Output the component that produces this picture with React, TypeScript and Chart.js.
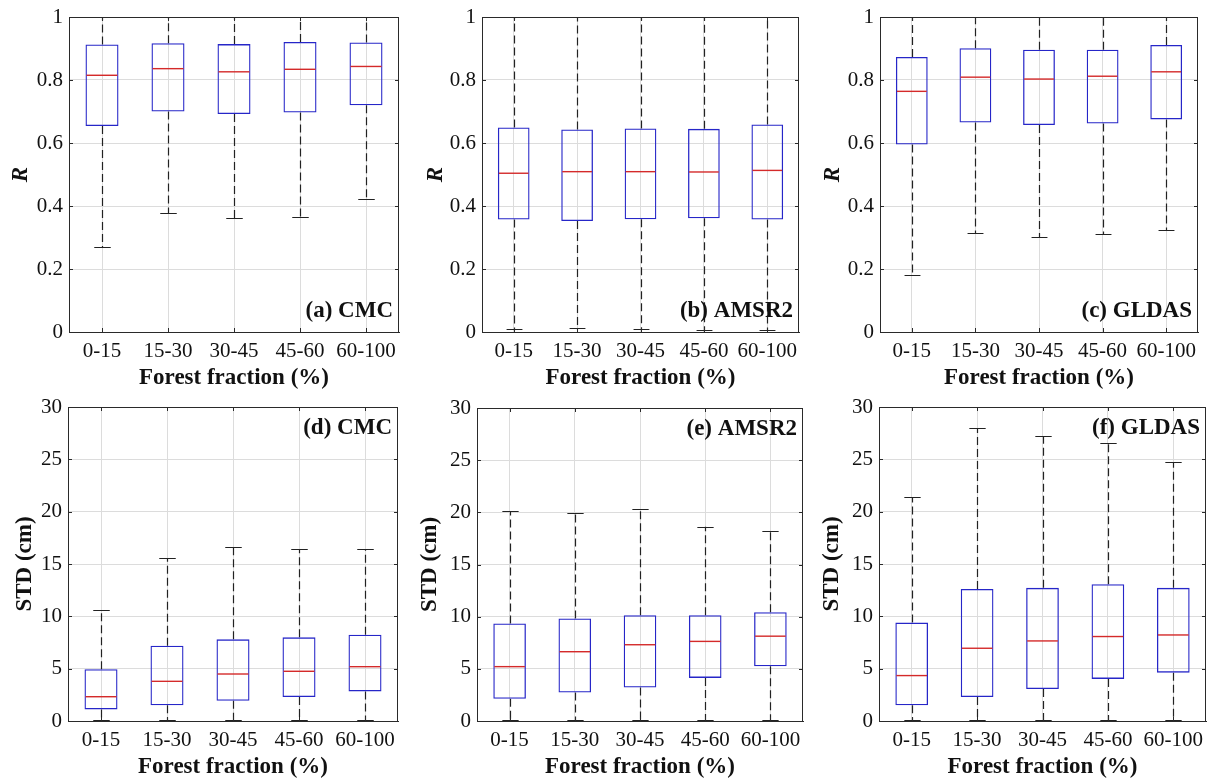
import React, { useEffect, useRef } from 'react';
import { Chart, registerables } from 'chart.js';

Chart.register(...registerables);

// ---------- data ----------
const categories = ['0-15', '15-30', '30-45', '45-60', '60-100'];

// (a) CMC, R
const rCmcLow = [0.267, 0.375, 0.36, 0.363, 0.42];
const rCmcQ1 = [0.654, 0.7, 0.692, 0.697, 0.72];
const rCmcMed = [0.815, 0.836, 0.826, 0.834, 0.843];
const rCmcQ3 = [0.913, 0.917, 0.914, 0.921, 0.919];
const rCmcHigh = [1, 1, 1, 1, 1];

// (b) AMSR2, R
const rAmsrLow = [0.005, 0.008, 0.006, 0.004, 0.004];
const rAmsrQ1 = [0.357, 0.352, 0.358, 0.361, 0.357];
const rAmsrMed = [0.504, 0.509, 0.509, 0.508, 0.513];
const rAmsrQ3 = [0.649, 0.643, 0.646, 0.645, 0.659];
const rAmsrHigh = [1, 1, 1, 1, 1];

// (c) GLDAS, R
const rGldasLow = [0.177, 0.312, 0.3, 0.309, 0.321];
const rGldasQ1 = [0.595, 0.665, 0.657, 0.662, 0.675];
const rGldasMed = [0.764, 0.809, 0.803, 0.812, 0.826];
const rGldasQ3 = [0.873, 0.901, 0.896, 0.896, 0.911];
const rGldasHigh = [1, 1, 1, 1, 1];

// (d) CMC, STD (cm)
const sCmcLow = [0, 0, 0, 0, 0];
const sCmcQ1 = [1.11, 1.5, 1.94, 2.29, 2.83];
const sCmcMed = [2.32, 3.79, 4.49, 4.75, 5.19];
const sCmcQ3 = [4.94, 7.2, 7.8, 7.99, 8.25];
const sCmcHigh = [10.64, 15.57, 16.66, 16.4, 16.4];

// (e) AMSR2, STD (cm)
const sAmsrLow = [0, 0, 0, 0, 0];
const sAmsrQ1 = [2.13, 2.73, 3.21, 4.13, 5.24];
const sAmsrMed = [5.21, 6.64, 7.31, 7.63, 8.13];
const sAmsrQ3 = [9.34, 9.82, 10.14, 10.14, 10.42];
const sAmsrHigh = [20.08, 19.96, 20.3, 18.62, 18.18];

// (f) GLDAS, STD (cm)
const sGldasLow = [0, 0, 0, 0, 0];
const sGldasQ1 = [1.5, 2.3, 3.06, 4.02, 4.62];
const sGldasMed = [4.34, 6.95, 7.65, 8.07, 8.22];
const sGldasQ3 = [9.4, 12.62, 12.72, 13.07, 12.72];
const sGldasHigh = [21.36, 27.99, 27.19, 26.56, 24.74];

// ---------- style ----------
const FONT = "'Liberation Serif', 'Times New Roman', serif";
const BOX = '#2626c8';
const MED = '#d42a2a';
const WHISK = '#222222';
const GRID = '#dcdcdc';
const AXIS = '#2a2a2a';
const TXT = '#111111';

const Y_W = 66;
const PAD_T = 20;
const PAD_R = 8;
const X_H = 62;

type PanelSpec = {
  key: string;
  label: string;
  yTitle: string;
  italic: boolean;
  low: number[];
  q1: number[];
  med: number[];
  q3: number[];
  high: number[];
  yMax: number;
  yStep: number;
  l: number;
  t: number;
  r: number;
  b: number;
  titlePad: number;
  labelAtTop: boolean;
};

const panels: PanelSpec[] = [
  { key: 'a', label: '(a) CMC', yTitle: 'R', italic: true, low: rCmcLow, q1: rCmcQ1, med: rCmcMed, q3: rCmcQ3, high: rCmcHigh, yMax: 1, yStep: 0.2, l: 69, t: 17, r: 399, b: 332, titlePad: 4, labelAtTop: false },
  { key: 'b', label: '(b) AMSR2', yTitle: 'R', italic: true, low: rAmsrLow, q1: rAmsrQ1, med: rAmsrMed, q3: rAmsrQ3, high: rAmsrHigh, yMax: 1, yStep: 0.2, l: 482, t: 17, r: 799, b: 332, titlePad: 6, labelAtTop: false },
  { key: 'c', label: '(c) GLDAS', yTitle: 'R', italic: true, low: rGldasLow, q1: rGldasQ1, med: rGldasMed, q3: rGldasQ3, high: rGldasHigh, yMax: 1, yStep: 0.2, l: 880, t: 17, r: 1198, b: 332, titlePad: 5, labelAtTop: false },
  { key: 'd', label: '(d) CMC', yTitle: 'STD (cm)', italic: false, low: sCmcLow, q1: sCmcQ1, med: sCmcMed, q3: sCmcQ3, high: sCmcHigh, yMax: 30, yStep: 5, l: 68, t: 407, r: 398, b: 721, titlePad: 9, labelAtTop: true },
  { key: 'e', label: '(e) AMSR2', yTitle: 'STD (cm)', italic: false, low: sAmsrLow, q1: sAmsrQ1, med: sAmsrMed, q3: sAmsrQ3, high: sAmsrHigh, yMax: 30, yStep: 5, l: 477, t: 408, r: 803, b: 721, titlePad: 5, labelAtTop: true },
  { key: 'f', label: '(f) GLDAS', yTitle: 'STD (cm)', italic: false, low: sGldasLow, q1: sGldasQ1, med: sGldasMed, q3: sGldasQ3, high: sGldasHigh, yMax: 30, yStep: 5, l: 879, t: 407, r: 1206, b: 721, titlePad: 5, labelAtTop: true },
];

function BoxPanel({ spec }: { spec: PanelSpec }) {
  const ref = useRef<HTMLCanvasElement | null>(null);
  const w = spec.r - spec.l + Y_W + PAD_R;
  const h = spec.b - spec.t + PAD_T + X_H;

  useEffect(() => {
    const canvas = ref.current;
    if (!canvas) return;

    const plugin = {
      id: 'boxWhiskers' + spec.key,
      beforeDatasetsDraw(chart: any) {
        const { ctx } = chart;
        const x = chart.scales.x;
        const y = chart.scales.y;
        const meta = chart.getDatasetMeta(0);
        ctx.save();
        ctx.strokeStyle = WHISK;
        ctx.lineWidth = 1.2;
        ctx.setLineDash([8, 4]);
        for (let i = 0; i < categories.length; i++) {
          const cx = Math.round(x.getPixelForValue(i)) + 0.5;
          ctx.beginPath();
          ctx.moveTo(cx, y.getPixelForValue(spec.q3[i]));
          ctx.lineTo(cx, y.getPixelForValue(spec.high[i]));
          ctx.moveTo(cx, y.getPixelForValue(spec.q1[i]));
          ctx.lineTo(cx, y.getPixelForValue(spec.low[i]));
          ctx.stroke();
        }
        ctx.setLineDash([]);
        for (let i = 0; i < categories.length; i++) {
          const cx = Math.round(x.getPixelForValue(i)) + 0.5;
          const bw = meta.data[i] ? meta.data[i].width : 30;
          const half = bw / 4;
          const yh = Math.round(y.getPixelForValue(spec.high[i])) + 0.5;
          const yl = Math.round(y.getPixelForValue(spec.low[i])) - 0.5;
          ctx.beginPath();
          ctx.moveTo(cx - half, yh);
          ctx.lineTo(cx + half, yh);
          ctx.moveTo(cx - half, yl);
          ctx.lineTo(cx + half, yl);
          ctx.stroke();
        }
        ctx.restore();
      },
      afterDatasetsDraw(chart: any) {
        const { ctx, chartArea } = chart;
        const x = chart.scales.x;
        const y = chart.scales.y;
        const meta = chart.getDatasetMeta(0);
        ctx.save();
        // medians
        ctx.strokeStyle = MED;
        ctx.lineWidth = 1.4;
        for (let i = 0; i < categories.length; i++) {
          const el = meta.data[i];
          const cx = x.getPixelForValue(i);
          const bw = el ? el.width : 30;
          const ym = y.getPixelForValue(spec.med[i]);
          ctx.beginPath();
          ctx.moveTo(cx - bw / 2 + 1, ym);
          ctx.lineTo(cx + bw / 2 - 1, ym);
          ctx.stroke();
        }
        // frame: top & right
        ctx.strokeStyle = AXIS;
        ctx.lineWidth = 1;
        const L = chartArea.left, R = chartArea.right, T = chartArea.top, B = chartArea.bottom;
        ctx.beginPath();
        ctx.moveTo(L, T + 0.5);
        ctx.lineTo(R, T + 0.5);
        ctx.moveTo(R - 0.5, T);
        ctx.lineTo(R - 0.5, B);
        ctx.stroke();
        // inward tick marks
        const tl = 4;
        ctx.beginPath();
        y.ticks.forEach((t: any) => {
          const py = Math.round(y.getPixelForValue(t.value)) + 0.5;
          ctx.moveTo(L, py);
          ctx.lineTo(L + tl, py);
          ctx.moveTo(R, py);
          ctx.lineTo(R - tl, py);
        });
        for (let i = 0; i < categories.length; i++) {
          const px = Math.round(x.getPixelForValue(i)) + 0.5;
          ctx.moveTo(px, B);
          ctx.lineTo(px, B - tl);
          ctx.moveTo(px, T);
          ctx.lineTo(px, T + tl);
        }
        ctx.stroke();
        // panel label
        ctx.fillStyle = TXT;
        ctx.font = `bold 23px ${FONT}`;
        ctx.textAlign = 'right';
        ctx.textBaseline = 'middle';
        const ly = spec.labelAtTop ? T + 21 : B - 21;
        ctx.fillText(spec.label, R - 6, ly);
        ctx.restore();
      },
    };

    const chart = new Chart(canvas, {
      type: 'bar',
      data: {
        labels: categories,
        datasets: [
          {
            data: spec.q1.map((v, i) => [v, spec.q3[i]]) as any,
            backgroundColor: 'rgba(0,0,0,0)',
            borderColor: BOX,
            borderWidth: 1.3,
            borderSkipped: false,
            barPercentage: 0.5,
            categoryPercentage: 1,
          },
        ],
      },
      options: {
        responsive: false,
        animation: false,
        devicePixelRatio: 1,
        events: [],
        layout: { padding: { top: PAD_T, right: PAD_R, left: 0, bottom: 0 } },
        plugins: { legend: { display: false }, tooltip: { enabled: false } },
        scales: {
          x: {
            offset: true,
            grid: { offset: false, color: GRID, drawTicks: false },
            border: { color: AXIS },
            ticks: {
              padding: 7,
              color: TXT,
              font: { family: FONT, size: 21 },
              maxRotation: 0,
              minRotation: 0,
              autoSkip: false,
            },
            title: {
              display: true,
              text: 'Forest fraction (%)',
              color: TXT,
              font: { family: FONT, size: 23, weight: 'bold' },
              padding: { top: 0, bottom: 2 },
            },
            afterFit: (s: any) => {
              s.height = X_H;
            },
          },
          y: {
            min: 0,
            max: spec.yMax,
            ticks: {
              stepSize: spec.yStep,
              padding: 6,
              color: TXT,
              font: { family: FONT, size: 21 },
              callback: (v: any) => String(+Number(v).toFixed(2)),
            },
            grid: { color: GRID, drawTicks: false },
            border: { color: AXIS },
            title: {
              display: true,
              text: spec.yTitle,
              color: TXT,
              font: { family: FONT, size: 23, weight: 'bold', style: spec.italic ? 'italic' : 'normal' },
              padding: { top: spec.titlePad, bottom: 0 },
            },
            afterFit: (s: any) => {
              s.width = Y_W;
            },
          },
        },
      } as any,
      plugins: [plugin],
    });
    return () => chart.destroy();
  }, [spec]);

  return (
    <canvas
      ref={ref}
      width={w}
      height={h}
      style={{ position: 'absolute', left: spec.l - Y_W, top: spec.t - PAD_T, width: w, height: h }}
    />
  );
}

export default function App() {
  return (
    <div
      style={{
        position: 'absolute',
        left: 0,
        top: 0,
        width: 1207,
        height: 778,
        overflow: 'hidden',
        background: '#ffffff',
      }}
    >
      {panels.map((p) => (
        <BoxPanel key={p.key} spec={p} />
      ))}
    </div>
  );
}
